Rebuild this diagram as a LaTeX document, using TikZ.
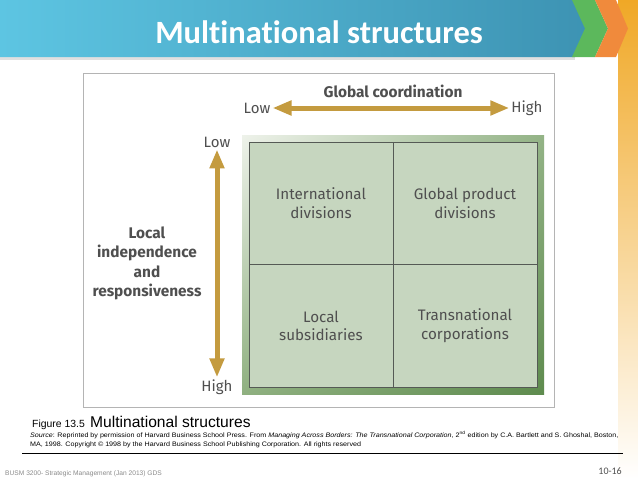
\documentclass[tikz,border=0pt]{standalone}
\usepackage{fontspec}
\setmainfont{Fira Sans}
\newfontfamily\titlefont[Ligatures={NoCommon,NoRequired,NoContextual}]{Carlito}
\newfontfamily\arialfont{Liberation Sans}
\newfontfamily\sourcefont[FakeStretch=1.1]{Liberation Sans}
\usetikzlibrary{arrows.meta,positioning,shadings}

\definecolor{barlight}{HTML}{5DC5E2}
\definecolor{bardark}{HTML}{3D93B3}
\definecolor{chevgreen}{HTML}{5CB85C}
\definecolor{chevorange}{HTML}{F08A3C}
\definecolor{sideorange}{HTML}{F0A826}
\definecolor{axisgold}{HTML}{C49B3F}
\definecolor{cellfill}{HTML}{C6D6BF}
\definecolor{cellline}{HTML}{555A55}
\definecolor{celltext}{HTML}{4F4F4F}
\definecolor{framegray}{HTML}{B4B4B4}
\definecolor{footgray}{HTML}{8A8A8A}
\definecolor{panelUL}{HTML}{EEF2EA}
\definecolor{panelUR}{HTML}{93B386}
\definecolor{panelLL}{HTML}{8FB080}
\definecolor{panelLR}{HTML}{5E8B4E}

\tikzset{
  goldarrow/.style={draw=axisgold, line width=5pt,
    {Triangle[width=14pt,length=19pt]}-{Triangle[width=14pt,length=19pt]}},
  axislabel/.style={text=celltext, font=\fontsize{15}{19.5}\selectfont, inner sep=2pt},
  axistitle/.style={text=celltext, font=\bfseries\fontsize{15.4}{19.5}\selectfont, align=center},
  cellbox/.style={draw=cellline, line width=1pt, fill=cellfill, text=celltext,
    minimum width=144pt, minimum height=122.5pt, align=center,
    font=\fontsize{15.2}{18.5}\selectfont},
}

\begin{document}
\begin{tikzpicture}[x=1pt,y=-1pt]
\useasboundingbox (0,0) rectangle (638,479);

% side band and title bar
\shade[top color=sideorange, bottom color=white] (618,0) rectangle (638,479);
\fill[black!12] (0,57) rectangle (575,60);
\shade[left color=barlight, right color=bardark] (0,0) -- (575,0) -- (586,28.5) -- (575,57) -- (0,57) -- cycle;
\fill[chevgreen] (572,0) -- (595,0) -- (608,28.5) -- (595,57) -- (572,57) -- (585,28.5) -- cycle;
\fill[chevorange] (595,0) -- (616,0) -- (628,28.5) -- (616,57) -- (595,57) -- (608,28.5) -- cycle;
\node[text=white, font=\titlefont\bfseries\fontsize{32.5}{34}\selectfont] (title) at (319,32) {Multinational structures};

% frame
\draw[framegray, line width=1pt, fill=white] (83,73) rectangle (554,407);

% green panel
\shade[upper left=panelUL, upper right=panelUR, lower left=panelLL, lower right=panelLR]
  (242,135) rectangle (544,394);

\node[cellbox] (intl) at (321,203.25) {International\\divisions};
\node[cellbox] (globprod) at (465,203.25) {Global product\\divisions};
\node[cellbox] (localsub) at (321,325.75) {Local\\subsidiaries};
\node[cellbox] (transnat) at (465,325.75) {Transnational\\corporations};

% axes
\node[axistitle] (globcoord) at (393,91) {Global coordination};
\node[axislabel] (hLow) at (257,108) {Low};
\node[axislabel] (hHigh) at (527,108) {High};
\draw[goldarrow] (hLow) -- (hHigh);

\node[axislabel] (vLow) at (217,142) {Low};
\node[axislabel] (vHigh) at (217,387) {High};
\draw[goldarrow] (vLow) -- (vHigh);

\node[axistitle] (localind) at (147,263.5) {Local\\independence\\and\\responsiveness};

% caption
\node[anchor=base west, inner sep=0pt, font=\arialfont\fontsize{10.4}{12}\selectfont] (fignum) at (32,427) {Figure 13.5};
\node[anchor=base west, inner sep=0pt, font=\arialfont\fontsize{15.6}{18}\selectfont] (figtitle) at (90,427) {Multinational structures};
\node[anchor=base west, inner sep=0pt, font=\sourcefont\fontsize{6.5}{8}\selectfont] (source1) at (30,437)
  {\textit{Source}: Reprinted by permission of Harvard Business School Press. From \textit{Managing Across Borders: The Transnational Corporation}, 2\textsuperscript{nd} edition by C.A. Bartlett and S. Ghoshal, Boston,};
\node[anchor=base west, inner sep=0pt, font=\sourcefont\fontsize{6.5}{8}\selectfont] (source2) at (30,446)
  {MA, 1998. Copyright \textcopyright{} 1998 by the Harvard Business School Publishing Corporation. All rights reserved};
\draw[line width=1pt] (22,453) -- (623,453);

% footer
\node[anchor=base west, inner sep=0pt, text=footgray, font=\arialfont\fontsize{6.65}{8}\selectfont] (footer) at (5,475) {BUSM 3200- Strategic Management (Jan 2013) GDS};
\node[anchor=base east, inner sep=0pt, text=celltext, font=\titlefont\fontsize{10}{12}\selectfont] (pagenum) at (622,474) {10-16};

\end{tikzpicture}
\end{document}
